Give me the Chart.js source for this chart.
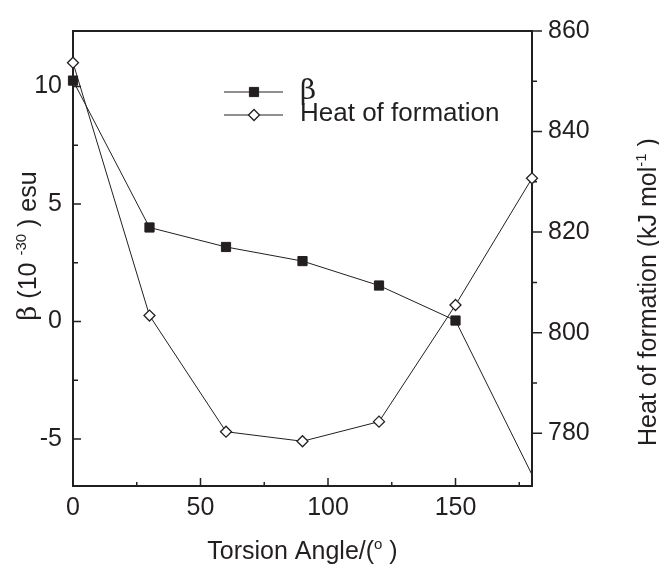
<!DOCTYPE html>
<html>
<head>
<meta charset="utf-8">
<script src="https://cdn.jsdelivr.net/npm/chart.js@4"></script>
<style>
  html, body { margin: 0; padding: 0; background: #fff; }
</style>
</head>
<body>
<canvas id="chart" width="659" height="564"></canvas>
<script>
// data
const angles = [0, 30, 60, 90, 120, 150, 180];
const beta = [10.25, 4.0, 3.17, 2.57, 1.53, 0.04, -6.52];
const heat = [853.7, 803.4, 780.3, 778.4, 782.3, 805.5, 830.7];

// axis ticks
const xTicks = [0, 50, 100, 150];
const xMinor = [25, 75, 125, 175];
const betaTicks = [-5, 0, 5, 10];
const betaMinor = [-2.5, 2.5, 7.5];
const heatTicks = [780, 800, 820, 840, 860];
const heatMinor = [790, 810, 830, 850];

const ink = "#231f20";
const sans = "'Liberation Sans', Arial, sans-serif";
const serif = "'DejaVu Serif', 'Liberation Serif', serif";

function drawRich(ctx, parts, cx, cy, angle) {
  ctx.save();
  ctx.translate(cx, cy);
  ctx.rotate(angle);
  ctx.textAlign = "left";
  ctx.textBaseline = "alphabetic";
  ctx.fillStyle = ink;
  let total = 0;
  parts.forEach((p) => {
    ctx.font = p.font;
    p.w = ctx.measureText(p.text).width;
    total += p.w;
  });
  let x = -total / 2;
  parts.forEach((p) => {
    ctx.font = p.font;
    ctx.fillText(p.text, x, p.dy || 0);
    x += p.w;
  });
  ctx.restore();
}

const framePlugin = {
  id: "frame",
  beforeDatasetsDraw(chart) {
    const { ctx, chartArea: a, scales } = chart;
    ctx.save();
    ctx.strokeStyle = ink;
    ctx.lineWidth = 2;
    ctx.strokeRect(a.left, a.top, a.right - a.left, a.bottom - a.top);

    ctx.lineWidth = 1.5;
    ctx.beginPath();
    // bottom ticks point up into the plot
    xTicks.forEach((v) => {
      const px = scales.x.getPixelForValue(v);
      ctx.moveTo(px, a.bottom);
      ctx.lineTo(px, a.bottom - 8);
    });
    xMinor.forEach((v) => {
      const px = scales.x.getPixelForValue(v);
      ctx.moveTo(px, a.bottom);
      ctx.lineTo(px, a.bottom - 4);
    });
    // left ticks point right into the plot
    betaTicks.forEach((v) => {
      const py = scales.y.getPixelForValue(v);
      ctx.moveTo(a.left, py);
      ctx.lineTo(a.left + 8, py);
    });
    betaMinor.forEach((v) => {
      const py = scales.y.getPixelForValue(v);
      ctx.moveTo(a.left, py);
      ctx.lineTo(a.left + 5, py);
    });
    // right ticks point outward
    heatTicks.forEach((v) => {
      const py = scales.y1.getPixelForValue(v);
      ctx.moveTo(a.right, py);
      ctx.lineTo(a.right + 10, py);
    });
    heatMinor.forEach((v) => {
      const py = scales.y1.getPixelForValue(v);
      ctx.moveTo(a.right, py);
      ctx.lineTo(a.right + 5, py);
    });
    ctx.stroke();
    ctx.restore();
  },
  afterDraw(chart) {
    const { ctx, chartArea: a } = chart;
    const f25 = "25px " + sans;
    const sup = "15px " + sans;

    // axis titles
    drawRich(ctx, [
      { text: "Torsion Angle/(", font: f25 },
      { text: "o", font: sup, dy: -10 },
      { text: " )", font: f25 },
    ], (a.left + a.right) / 2, 559, 0);

    drawRich(ctx, [
      { text: "\u03b2", font: "26px " + serif },
      { text: " (10 ", font: f25 },
      { text: "-30", font: sup, dy: -10 },
      { text: " ) esu", font: f25 },
    ], 36, 246, -Math.PI / 2);

    drawRich(ctx, [
      { text: "Heat of formation (kJ mol", font: f25 },
      { text: "-1", font: sup, dy: -10 },
      { text: " )", font: f25 },
    ], 656, 292, -Math.PI / 2);

    // legend
    const rows = [
      { y: 92, label: "\u03b2", font: "28px " + serif, base: 99, ds: chart.data.datasets[0] },
      { y: 115, label: "Heat of formation", font: "26px " + sans, base: 121, ds: chart.data.datasets[1] },
    ];
    ctx.save();
    rows.forEach((r) => {
      ctx.strokeStyle = ink;
      ctx.lineWidth = 1;
      ctx.beginPath();
      ctx.moveTo(224, r.y);
      ctx.lineTo(283, r.y);
      ctx.stroke();
      ctx.fillStyle = r.ds.pointBackgroundColor;
      ctx.strokeStyle = r.ds.pointBorderColor;
      ctx.lineWidth = r.ds.pointBorderWidth;
      Chart.helpers.drawPoint(ctx, {
        pointStyle: r.ds.pointStyle,
        radius: r.ds.legendRadius,
        rotation: 0,
        borderWidth: r.ds.pointBorderWidth,
      }, 254, r.y);
      ctx.fillStyle = ink;
      ctx.font = r.font;
      ctx.textAlign = "left";
      ctx.textBaseline = "alphabetic";
      ctx.fillText(r.label, 300, r.base);
    });
    ctx.restore();
  },
};

const tickFont = { family: sans, size: 25 };

new Chart(document.getElementById("chart"), {
  type: "line",
  data: {
    labels: angles,
    datasets: [
      {
        label: "\u03b2",
        data: angles.map((a, i) => ({ x: a, y: beta[i] })),
        yAxisID: "y",
        borderColor: ink,
        borderWidth: 1,
        pointStyle: "rect",
        pointRadius: angles.map((a, i) => (i === angles.length - 1 ? 0 : 6.5)),
        legendRadius: 6.5,
        pointBackgroundColor: ink,
        pointBorderColor: ink,
        pointBorderWidth: 1,
        tension: 0,
      },
      {
        label: "Heat of formation",
        data: angles.map((a, i) => ({ x: a, y: heat[i] })),
        yAxisID: "y1",
        borderColor: ink,
        borderWidth: 1,
        pointStyle: "rectRot",
        pointRadius: 5.5,
        legendRadius: 5.5,
        pointBackgroundColor: "#ffffff",
        pointBorderColor: ink,
        pointBorderWidth: 1.3,
        tension: 0,
      },
    ],
  },
  options: {
    responsive: false,
    animation: false,
    clip: false,
    layout: { padding: { top: 27, left: 0, right: 0, bottom: 0 } },
    plugins: {
      legend: { display: false },
      tooltip: { enabled: false },
    },
    scales: {
      x: {
        type: "linear",
        min: 0,
        max: 180,
        afterBuildTicks: (s) => { s.ticks = xTicks.map((v) => ({ value: v })); },
        afterFit: (s) => { s.height = 78; },
        grid: { display: false, drawTicks: false },
        border: { display: false },
        ticks: { font: tickFont, color: ink, padding: 7, maxRotation: 0, autoSkip: false },
      },
      y: {
        position: "left",
        min: -7,
        max: 12.36,
        afterBuildTicks: (s) => { s.ticks = betaTicks.map((v) => ({ value: v })); },
        afterFit: (s) => { s.width = 73; },
        grid: { display: false, drawTicks: false },
        border: { display: false },
        ticks: { font: tickFont, color: ink, padding: 11 },
      },
      y1: {
        position: "right",
        min: 769.5,
        max: 860,
        afterBuildTicks: (s) => { s.ticks = heatTicks.map((v) => ({ value: v })); },
        afterFit: (s) => { s.width = 127; },
        grid: { display: false, drawTicks: false },
        border: { display: false },
        ticks: { font: tickFont, color: ink, padding: 16 },
      },
    },
  },
  plugins: [framePlugin],
});
</script>
</body>
</html>
